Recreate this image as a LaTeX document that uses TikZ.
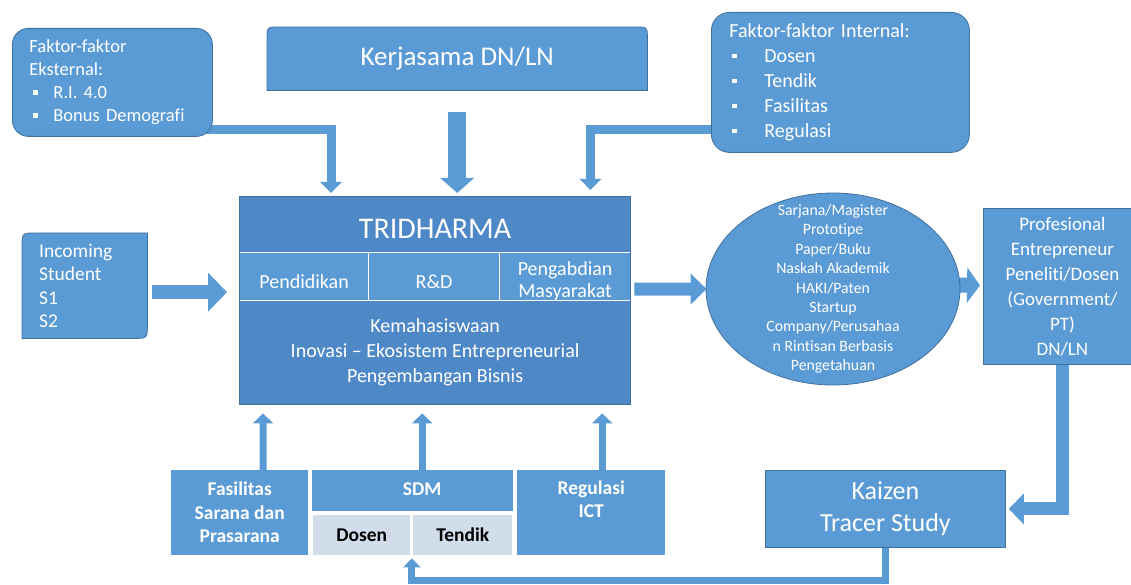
\documentclass[tikz,border=0pt]{standalone}
\usepackage{fontspec}
\setmainfont{Carlito}[Ligatures={TeX,NoCommon}]
\usetikzlibrary{arrows.meta,calc,shapes.geometric,backgrounds}
\definecolor{bF}{HTML}{5B9BD5}
\definecolor{bD}{HTML}{41719C}
\definecolor{bH}{HTML}{4F88C6}
\definecolor{lc}{HTML}{D2DDEC}
\newcommand{\bulx}[2]{\hspace*{#1}\makebox[#2][l]{\raisebox{0.22em}{\rule{4.5pt}{4.5pt}}}}
\newcommand{\fs}[2]{\fontsize{#1}{#2}\selectfont}
\frenchspacing
\begin{document}
\begin{tikzpicture}[x=1pt,y=-1pt,
  box/.style={fill=bF, draw=bD, line width=0.8pt, inner sep=0pt, text=white, anchor=north west},
  bx/.style={fill=bF, inner sep=0pt, text=white, anchor=north west},
  hd/.style={fill=bH, draw=white, line width=1.2pt, inner sep=0pt, anchor=north west},
  cell/.style={fill=bF, draw=white, line width=1.2pt, inner sep=0pt, anchor=north west},
  lt/.style={fill=lc, inner sep=0pt, anchor=north west, text=black, font=\bfseries\fs{19.5}{23.5}},
  wt/.style={text=white, inner sep=0pt, align=center},
  conn/.style={draw=bF, line join=miter}]
\useasboundingbox (0,0) rectangle (1131,585);

% ---- top boxes
\node[box, rounded corners=16pt, minimum width=200pt, minimum height=108pt, text width=166pt, align=left, font=\fs{18.5}{23}] (ext) at (12,28)
  {Faktor-faktor\\Eksternal:\\\bulx{4pt}{20pt}R.I. 4.0\\\bulx{4pt}{20pt}Bonus Demografi};
\node[wt, anchor=north west, minimum width=380pt, minimum height=63pt, font=\fs{27}{30}] (kerja) at (267,27) {Kerjasama DN/LN};
\node[box, rounded corners=18pt, minimum width=258pt, minimum height=140pt, text width=222pt, align=left, font=\fs{20}{25}] (int) at (711,12)
  {Faktor-faktor Internal:\\\bulx{3pt}{32pt}Dosen\\\bulx{3pt}{32pt}Tendik\\\bulx{3pt}{32pt}Fasilitas\\\bulx{3pt}{32pt}Regulasi};

% ---- incoming
\node[wt, anchor=north west, minimum width=125pt, minimum height=105pt, text width=91pt, align=left, font=\fs{19.5}{23.5}] (inc) at (22,233)
  {Incoming\\Student\\S1\\S2};

% ---- TRIDHARMA
\node[anchor=north west, minimum width=391pt, minimum height=208pt, inner sep=0pt] (tri) at (239,196) {};
\node[hd, minimum width=391pt, minimum height=56pt] (trih) at (239,196) {};
\node[cell, minimum width=129pt, minimum height=48pt] (pend) at (239,252) {};
\node[cell, minimum width=131pt, minimum height=48pt] (rnd) at (368,252) {};
\node[cell, minimum width=131pt, minimum height=48pt] (peng) at (499,252) {};
\node[hd, minimum width=391pt, minimum height=104pt] (kem) at (239,300) {};
\draw[bD, line width=0.8pt] (tri.north west) rectangle (tri.south east);
\node[wt, font=\fs{30}{32}] (triht) at ($(trih.center)+(0,4)$) {TRIDHARMA};
\node[wt, font=\fs{20}{22}] (pendt) at ($(pend.center)+(0,5)$) {Pendidikan};
\node[wt, font=\fs{20}{22}] (rndt) at ($(rnd.center)+(0,5)$) {R\&D};
\node[wt, font=\fs{20}{22}] (pengt) at ($(peng.center)+(0,5)$) {Pengabdian\\Masyarakat};
\node[wt, font=\fs{20}{25}] (kemt) at (kem.center) {Kemahasiswaan\\Inovasi – Ekosistem Entrepreneurial\\Pengembangan Bisnis};

% ---- outcome circle
\node[ellipse, fill=bF, draw=bD, line width=0.8pt, minimum width=254pt, minimum height=192pt, inner sep=0pt] (circ) at (833,289) {};
\node[wt, font=\fs{15.8}{19.4}] (circt) at (circ.center)
  {Sarjana/Magister\\Prototipe\\Paper/Buku\\Naskah Akademik\\HAKI/Paten\\Startup\\Company/Perusahaa\\n Rintisan Berbasis\\Pengetahuan};

% ---- right boxes
\node[box, minimum width=158pt, minimum height=156pt, align=center, font=\fs{19}{25}] (prof) at (983,208)
  {Profesional\\Entrepreneur\\Peneliti/Dosen\\(Government/\\PT)\\DN/LN};
\node[box, minimum width=240pt, minimum height=77pt, align=center, font=\fs{26}{32}] (kz) at (765,470) {Kaizen\\Tracer Study};

% ---- bottom boxes
\node[bx, minimum width=137pt, minimum height=85pt, align=center, font=\bfseries\fs{19.5}{23.5}] (fas) at (171,470) {Fasilitas\\Sarana dan\\Prasarana};
\node[bx, minimum width=201pt, minimum height=41pt] (sdm) at (312,470) {};
\node[wt, font=\bfseries\fs{19.5}{23.5}] (sdmt) at ($(sdm.center)+(9.5,-2)$) {SDM};
\node[lt, minimum width=97pt, minimum height=40pt] (dos) at (313,515) {Dosen};
\node[lt, minimum width=99pt, minimum height=40pt] (ten) at (413,515) {Tendik};
\node[bx, minimum width=148pt, minimum height=85pt] (reg) at (517,470) {};
\node[wt, font=\bfseries\fs{19.5}{23.5}] (regt) at ($(reg.center)+(0,-13.5)$) {Regulasi\\ICT};

\begin{scope}[on background layer]
\fill[white] (0,0) rectangle (1131,585);
% connectors
\draw[conn, line width=9pt, -{Triangle[width=21pt,length=11pt]}] ($(ext.south east)+(-10,-7)$) -| ($(tri.north west)+(92,-3)$);
\draw[conn, line width=18pt, -{Triangle[width=33pt,length=15pt]}] ($(kerja.south)+(0,22)$) -- ($(kerja.south |- tri.north)+(0,-3)$);
\draw[conn, line width=9pt, -{Triangle[width=21pt,length=11pt]}] ($(int.west)+(8,47)$) -| ($(tri.north east)+(-40,-6)$);
\draw[conn, line width=14pt, -{Triangle[width=38pt,length=19pt]}] ($(inc.east)+(5,6.5)$) -- ($(tri.west)+(-12,-8)$);
\draw[conn, line width=13pt, -{Triangle[width=30pt,length=16pt]}] ($(tri.east)+(4,-11)$) -- ($(circ.west)+(1,0)$);
\draw[conn, line width=15pt, -{Triangle[width=35pt,length=13pt]}] ($(circ.east)+(-4,-4)$) -- ($(prof.west)+(-3,-1)$);
\draw[conn, line width=7pt, -{Triangle[width=20pt,length=10pt]}] ($(fas.north)+(23.5,0)$) -- ($(tri.south west)+(24,9)$);
\draw[conn, line width=7pt, -{Triangle[width=20pt,length=10pt]}] ($(sdm.north)+(9.5,0)$) -- ($(sdm.north |- tri.south)+(9.5,9)$);
\draw[conn, line width=7pt, -{Triangle[width=20pt,length=10pt]}] ($(reg.north)+(11,0)$) -- ($(reg.north |- tri.south)+(11,9)$);
\draw[conn, line width=13pt, -{Triangle[width=30pt,length=15pt]}] (prof.south) |- ($(kz.east)+(3,0)$);
\draw[conn, line width=7pt, -{Triangle[width=17pt,length=9pt]}] (kz.south) -- ($(kz.south)+(0,33)$) -| ($(dos.south east)+(1.5,3)$);
% custom shapes
\filldraw[fill=bF, draw=bD, line width=0.8pt] (kerja.south west) -- ($(kerja.north west)+(0,12)$) .. controls (kerja.north west) .. ($(kerja.north west)+(12,0)$)
  -- ($(kerja.north east)+(-12,0)$) .. controls (kerja.north east) .. ($(kerja.north east)+(0,12)$) -- (kerja.south east) -- cycle;
\filldraw[fill=bF, draw=bD, line width=0.8pt] (inc.south west) -- ($(inc.north west)+(0,14)$) .. controls (inc.north west) .. ($(inc.north west)+(14,0)$)
  -- (inc.north east) -- ($(inc.south east)+(0,-14)$) .. controls (inc.south east) .. ($(inc.south east)+(-14,0)$) -- cycle;
\end{scope}
\end{tikzpicture}
\end{document}
